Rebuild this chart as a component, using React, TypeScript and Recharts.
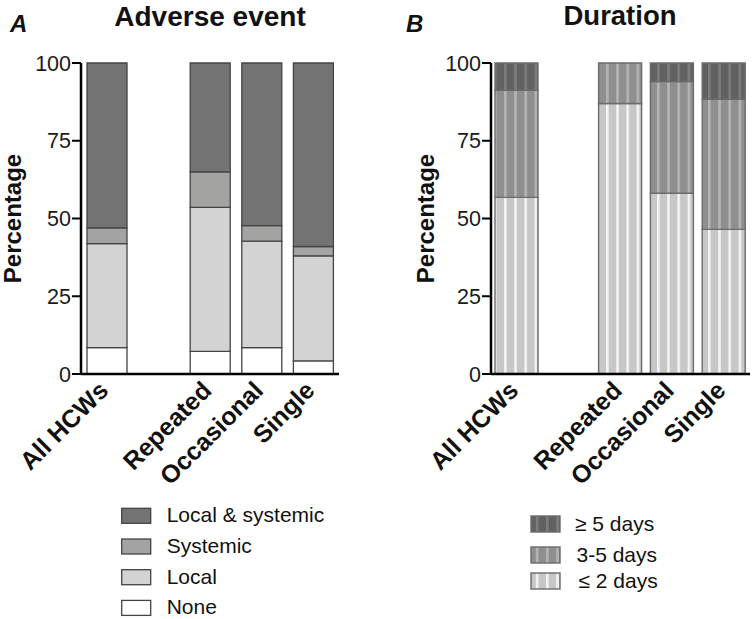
import React from 'react';
import { BarChart, Bar, XAxis, YAxis, Legend } from 'recharts';

const categories = ['All HCWs', '', 'Repeated', 'Occasional', 'Single'];

// Panel A: Adverse event (percent)
const noneVals = [8.5, null, 7.3, 8.5, 4.2];
const localVals = [33.4, null, 46.3, 34.2, 33.8];
const systemicVals = [5.1, null, 11.4, 5.0, 3.0];
const bothVals = [53.0, null, 35.0, 52.3, 59.0];

// Panel B: Duration (percent)
const le2Vals = [56.8, null, 87.0, 58.1, 46.5];
const d35Vals = [34.4, null, 13.0, 35.9, 41.8];
const ge5Vals = [8.8, null, 0, 6.0, 11.7];

const yTicks = [0, 25, 50, 75, 100];

const legendOrderA = ['both', 'systemic', 'local', 'none'];
const legendOrderB = ['ge5', 'd35', 'le2'];

const adverseData = categories.map((name, i) => ({
  name,
  none: noneVals[i],
  local: localVals[i],
  systemic: systemicVals[i],
  both: bothVals[i],
}));

const durationData = categories.map((name, i) => ({
  name,
  le2: le2Vals[i],
  d35: d35Vals[i],
  ge5: ge5Vals[i],
}));

const FONT = '"Liberation Sans", Arial, Helvetica, sans-serif';

const fillA: Record<string, string> = {
  both: '#737373',
  systemic: '#a3a3a1',
  local: '#d3d3d3',
  none: '#ffffff',
};
const fillB: Record<string, string> = {
  ge5: 'url(#p-ge5)',
  d35: 'url(#p-d35)',
  le2: 'url(#p-le2)',
};

const XTick = (props: any) => {
  const { x, y, payload } = props;
  if (!payload || !payload.value) return null;
  return (
    <g transform={`translate(${x + 3},${y + 18})`}>
      <text
        transform="rotate(-45)"
        textAnchor="end"
        fontFamily={FONT}
        fontSize={25}
        fontWeight="bold"
        fill="#111"
      >
        {payload.value}
      </text>
    </g>
  );
};

const yLabel = (lx: number) => (props: any) => {
  const vb = props.viewBox || {};
  const cy = (vb.y || 0) + (vb.height || 0) / 2;
  return (
    <text
      x={lx}
      y={cy}
      transform={`rotate(-90, ${lx}, ${cy})`}
      textAnchor="middle"
      fontFamily={FONT}
      fontSize={24}
      fontWeight="bold"
      fill="#111"
    >
      Percentage
    </text>
  );
};

const orderItems = (payload: any[], order: string[]) =>
  order
    .map((k) => (payload || []).find((p: any) => p.dataKey === k))
    .filter(Boolean);

const LegendA = (props: any) => {
  const items = orderItems(props.payload, legendOrderA);
  return (
    <svg width={250} height={120}>
      {items.map((it: any, i: number) => (
        <g key={String(it.dataKey)}>
          <rect
            x={11.7}
            y={8.3 + i * 30.7}
            width={29}
            height={15}
            fill={fillA[it.dataKey]}
            stroke="#444"
            strokeWidth={1.3}
          />
          <text x={56.7} y={22.3 + i * 30.7} fontFamily={FONT} fontSize={21} fill="#111">
            {it.value}
          </text>
        </g>
      ))}
    </svg>
  );
};

const rowTopsB = [16, 47, 73];
const rowBaseB = [30.7, 61.7, 88.3];
const rowTextXB = [55, 56.5, 58.5];

const LegendB = (props: any) => {
  const items = orderItems(props.payload, legendOrderB);
  return (
    <svg width={230} height={100}>
      {items.map((it: any, i: number) => (
        <g key={String(it.dataKey)}>
          <rect
            x={11}
            y={rowTopsB[i]}
            width={29}
            height={16}
            fill={fillB[it.dataKey]}
            stroke="#6b6b6b"
            strokeWidth={1.4}
          />
          <text x={rowTextXB[i]} y={rowBaseB[i]} fontFamily={FONT} fontSize={21} fill="#111">
            {it.value}
          </text>
        </g>
      ))}
    </svg>
  );
};

const Stripe = ({ id, base, stripe }: { id: string; base: string; stripe: string }) => (
  <pattern id={id} patternUnits="userSpaceOnUse" x={5.6} y={0} width={10.2} height={10}>
    <rect x={0} y={0} width={10.2} height={10} fill={base} />
    <rect x={0} y={0} width={2.6} height={10} fill={stripe} />
  </pattern>
);

const axisLine = { stroke: '#000', strokeWidth: 2.5 };
const tickLine = { stroke: '#000', strokeWidth: 2 };
const tickStyle = { fontSize: 21.5, fill: '#1a1a1a', fontFamily: FONT };

export default function App() {
  return (
    <div
      style={{
        position: 'absolute',
        left: 0,
        top: 0,
        width: 752,
        height: 619,
        background: '#fff',
        overflow: 'hidden',
        fontFamily: FONT,
      }}
    >
      <svg width={0} height={0} style={{ position: 'absolute' }}>
        <defs>
          <Stripe id="p-ge5" base="#616161" stripe="#7d7d7d" />
          <Stripe id="p-d35" base="#8f8f8f" stripe="#b4b4b4" />
          <Stripe id="p-le2" base="#c7c7c7" stripe="#f3f3f3" />
        </defs>
      </svg>

      <div style={{ position: 'absolute', left: 0, top: 0 }}>
        <BarChart
          width={376}
          height={619}
          data={adverseData}
          margin={{ top: 63, right: 37, bottom: 145, left: 21 }}
        >
          <XAxis
            dataKey="name"
            height={100}
            axisLine={axisLine}
            tickLine={false}
            tickSize={0}
            tickMargin={0}
            interval={0}
            tick={<XTick />}
          />
          <YAxis
            width={60}
            domain={[0, 100]}
            ticks={yTicks}
            axisLine={axisLine}
            tickLine={tickLine}
            tickSize={9}
            tickMargin={1}
            tick={tickStyle}
            label={{ content: yLabel(21) } as any}
          />
          <Legend
            layout="vertical"
            align="center"
            verticalAlign="middle"
            wrapperStyle={{ left: 110, top: 500, width: 250, height: 120 }}
            content={<LegendA />}
          />
          <Bar dataKey="none" name="None" stackId="a" fill={fillA.none} stroke="#444" strokeWidth={1.3} barSize={40} isAnimationActive={false} />
          <Bar dataKey="local" name="Local" stackId="a" fill={fillA.local} stroke="#444" strokeWidth={1.3} barSize={40} isAnimationActive={false} />
          <Bar dataKey="systemic" name="Systemic" stackId="a" fill={fillA.systemic} stroke="#444" strokeWidth={1.3} barSize={40} isAnimationActive={false} />
          <Bar dataKey="both" name="Local & systemic" stackId="a" fill={fillA.both} stroke="#444" strokeWidth={1.3} barSize={40} isAnimationActive={false} />
        </BarChart>
      </div>

      <div style={{ position: 'absolute', left: 376, top: 0 }}>
        <BarChart
          width={376}
          height={619}
          data={durationData}
          margin={{ top: 63, right: 2, bottom: 145, left: 55 }}
        >
          <XAxis
            dataKey="name"
            height={100}
            axisLine={axisLine}
            tickLine={false}
            tickSize={0}
            tickMargin={0}
            interval={0}
            tick={<XTick />}
          />
          <YAxis
            width={60}
            domain={[0, 100]}
            ticks={yTicks}
            axisLine={axisLine}
            tickLine={tickLine}
            tickSize={9}
            tickMargin={1}
            tick={tickStyle}
            label={{ content: yLabel(58) } as any}
          />
          <Legend
            layout="vertical"
            align="center"
            verticalAlign="middle"
            wrapperStyle={{ left: 144, top: 500, width: 230, height: 100 }}
            content={<LegendB />}
          />
          <Bar dataKey="le2" name="≤ 2 days" stackId="b" fill={fillB.le2} stroke="#6b6b6b" strokeWidth={1.4} barSize={43} isAnimationActive={false} />
          <Bar dataKey="d35" name="3-5 days" stackId="b" fill={fillB.d35} stroke="#6b6b6b" strokeWidth={1.4} barSize={43} isAnimationActive={false} />
          <Bar dataKey="ge5" name="≥ 5 days" stackId="b" fill={fillB.ge5} stroke="#6b6b6b" strokeWidth={1.4} barSize={43} isAnimationActive={false} />
        </BarChart>
      </div>

      <svg
        width={752}
        height={619}
        style={{ position: 'absolute', left: 0, top: 0, pointerEvents: 'none' }}
      >
        <text x={10} y={32} fontFamily={FONT} fontSize={24} fontWeight="bold" fontStyle="italic" fill="#111">A</text>
        <text x={210} y={26} textAnchor="middle" fontFamily={FONT} fontSize={28} fontWeight="bold" fill="#111">Adverse event</text>
        <text x={406} y={32} fontFamily={FONT} fontSize={24} fontWeight="bold" fontStyle="italic" fill="#111">B</text>
        <text x={620} y={24.5} textAnchor="middle" fontFamily={FONT} fontSize={27.5} fontWeight="bold" fill="#111">Duration</text>
      </svg>
    </div>
  );
}
